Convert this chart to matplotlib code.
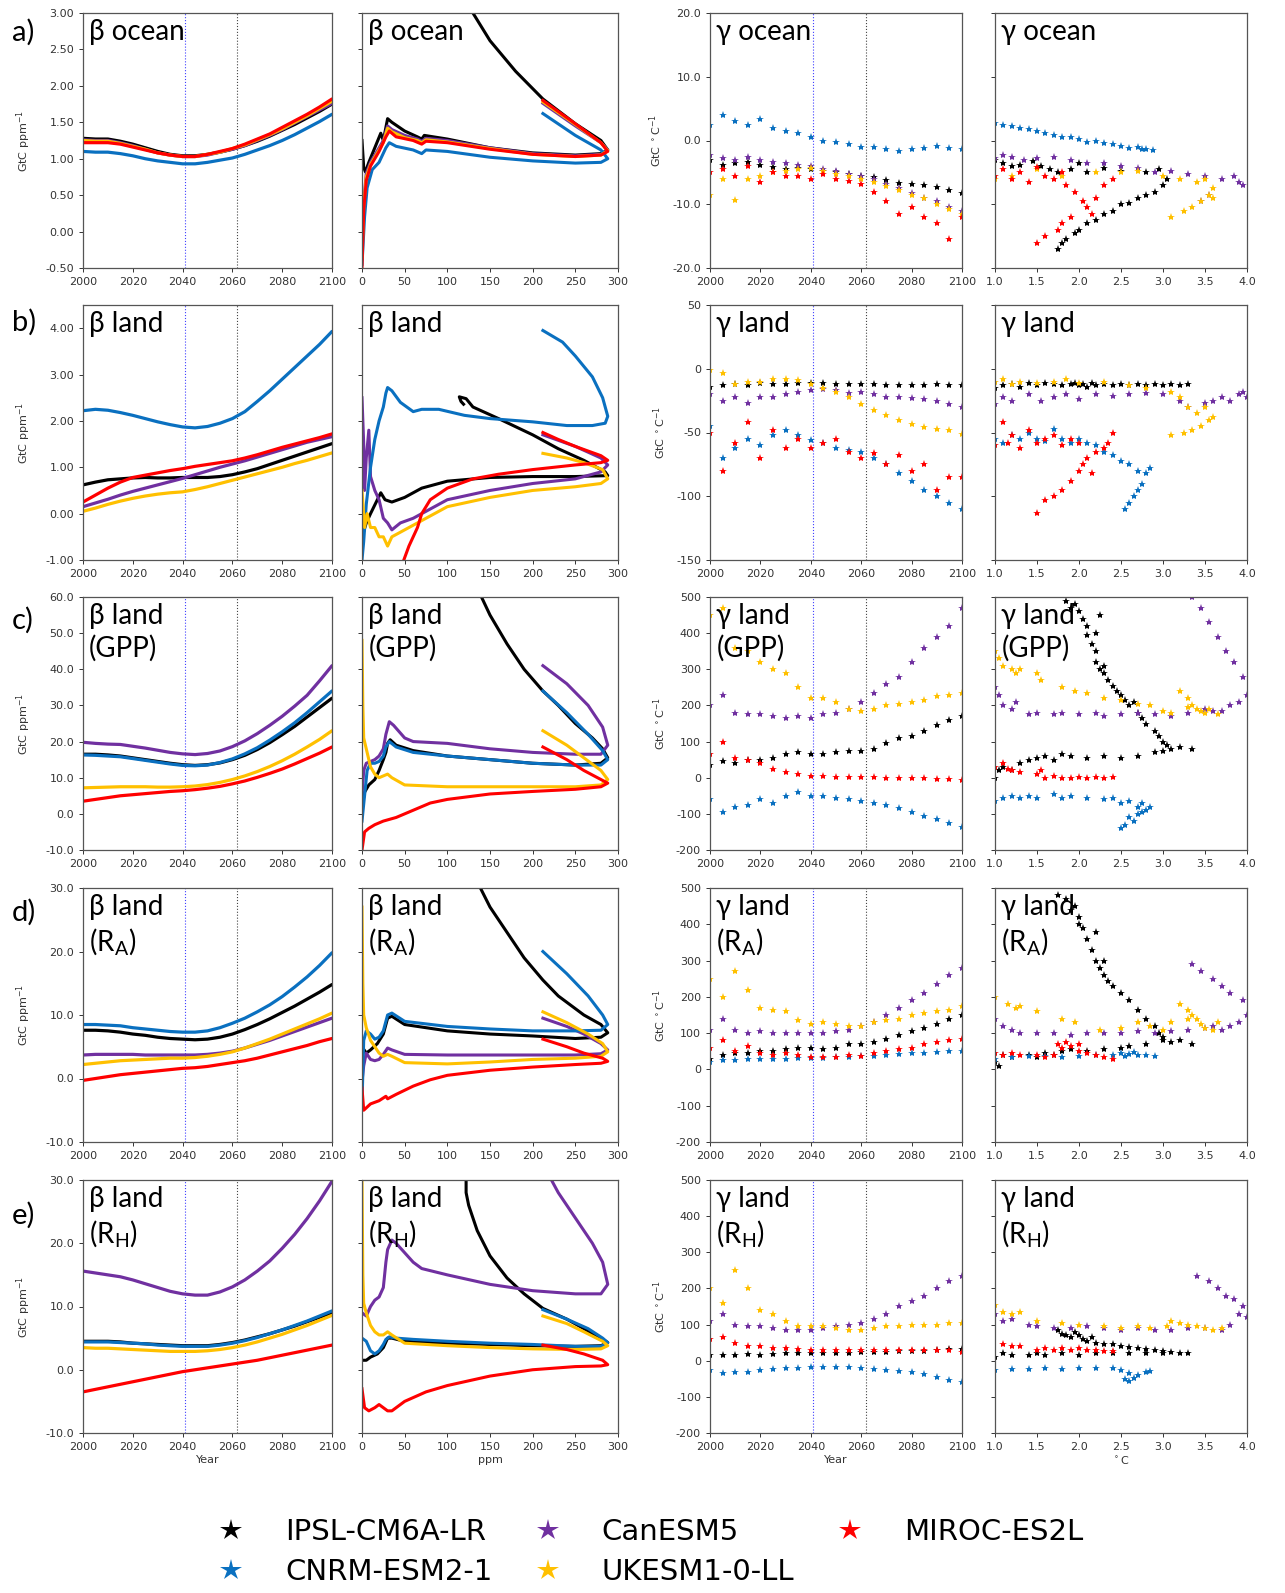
import matplotlib

matplotlib.use("Agg")
import matplotlib.pyplot as plt
from matplotlib.lines import Line2D
from matplotlib.ticker import FormatStrFormatter, MultipleLocator

IPSL, CAN, MIROC, CNRM, UKESM = "IPSL-CM6A-LR", "CanESM5", "MIROC-ES2L", "CNRM-ESM2-1", "UKESM1-0-LL"
COLORS = {IPSL: "#000000", CAN: "#7030a0", MIROC: "#ff0000", CNRM: "#0a70c0", UKESM: "#ffc000"}
DRAW_ORDER = [IPSL, CAN, CNRM, UKESM, MIROC]
LEGEND_ORDER = [IPSL, CNRM, CAN, UKESM, MIROC]

YEARS = list(range(2000, 2101, 5))
YEAR_TICKS = list(range(2000, 2101, 20))
PPM_TICKS = list(range(0, 301, 50))
TEMP_TICKS = [1.0, 1.5, 2.0, 2.5, 3.0, 3.5, 4.0]

# ---------------- a) ocean ----------------
BETA_OCEAN_YR = {
    IPSL: [1.28, 1.27, 1.27, 1.24, 1.20, 1.15, 1.10, 1.06, 1.04, 1.04, 1.06, 1.09, 1.13, 1.18, 1.24, 1.31, 1.39, 1.47, 1.56, 1.65, 1.75],
    CAN: [1.26, 1.25, 1.25, 1.22, 1.18, 1.13, 1.08, 1.05, 1.03, 1.03, 1.05, 1.09, 1.13, 1.18, 1.25, 1.32, 1.40, 1.49, 1.58, 1.67, 1.76],
    UKESM: [1.25, 1.24, 1.24, 1.21, 1.17, 1.13, 1.08, 1.05, 1.03, 1.03, 1.06, 1.09, 1.14, 1.19, 1.26, 1.33, 1.41, 1.50, 1.59, 1.69, 1.79],
    MIROC: [1.22, 1.22, 1.22, 1.20, 1.16, 1.12, 1.08, 1.05, 1.03, 1.03, 1.06, 1.10, 1.14, 1.20, 1.27, 1.34, 1.43, 1.52, 1.61, 1.71, 1.82],
    CNRM: [1.10, 1.09, 1.09, 1.07, 1.04, 1.00, 0.97, 0.95, 0.93, 0.93, 0.95, 0.98, 1.01, 1.06, 1.12, 1.18, 1.25, 1.33, 1.42, 1.51, 1.61],
}
BETA_OCEAN_PPM = {
    IPSL: [(0, 1.25), (2, 0.88), (4, 0.82), (8, 0.95), (15, 1.15), (22, 1.35), (25, 1.25), (30, 1.55), (35, 1.50), (50, 1.38),
           (65, 1.30), (70, 1.27), (73, 1.32), (100, 1.27), (150, 1.15), (200, 1.08), (250, 1.05), (280, 1.07), (288, 1.12),
           (280, 1.25), (250, 1.48), (212, 1.82), (180, 2.2), (150, 2.62), (130, 3.0), (120, 3.2)],
    CAN: [(0, -0.3), (2, 0.4), (5, 0.8), (10, 0.95), (20, 1.15), (25, 1.25), (30, 1.45), (35, 1.40), (50, 1.32), (65, 1.27),
          (70, 1.24), (75, 1.28), (100, 1.25), (150, 1.15), (200, 1.07), (250, 1.04), (280, 1.06), (288, 1.12), (280, 1.22),
          (250, 1.45), (212, 1.76)],
    UKESM: [(0, -0.35), (2, 0.35), (5, 0.75), (10, 0.92), (20, 1.12), (25, 1.22), (30, 1.42), (35, 1.37), (50, 1.29), (65, 1.25),
            (70, 1.22), (75, 1.26), (100, 1.23), (150, 1.14), (200, 1.06), (250, 1.03), (280, 1.05), (288, 1.11), (280, 1.22),
            (250, 1.47), (212, 1.78)],
    MIROC: [(0, -0.5), (2, 0.3), (5, 0.7), (10, 0.9), (20, 1.1), (28, 1.3), (32, 1.38), (40, 1.30), (60, 1.25), (70, 1.20),
            (75, 1.24), (100, 1.22), (150, 1.13), (200, 1.06), (250, 1.03), (280, 1.05), (288, 1.10), (280, 1.22), (250, 1.48),
            (212, 1.80)],
    CNRM: [(0, -0.45), (3, 0.2), (6, 0.6), (12, 0.85), (20, 0.95), (28, 1.15), (32, 1.22), (40, 1.17), (60, 1.12), (70, 1.07),
           (75, 1.12), (100, 1.10), (150, 1.02), (200, 0.97), (250, 0.94), (280, 0.95), (288, 1.00), (280, 1.12), (250, 1.32),
           (212, 1.62)],
}
GAMMA_OCEAN_YR = {
    IPSL: [-3.0, -3.8, -3.5, -3.3, -3.8, -4.2, -4.5, -4.3, -4.5, -4.8, -5.0, -5.2, -5.5, -5.8, -6.2, -6.6, -6.8, -7.0, -7.3, -7.8, -8.3],
    CAN: [-2.2, -2.8, -3.0, -2.6, -3.0, -3.4, -3.6, -3.8, -4.0, -4.5, -4.8, -5.2, -5.6, -6.0, -6.8, -7.5, -8.3, -9.0, -9.5, -10.5, -11.0],
    CNRM: [2.5, 4.0, 3.0, 2.5, 3.3, 2.0, 1.5, 1.2, 0.5, 0.0, -0.2, -0.5, -1.0, -1.0, -1.3, -1.6, -1.4, -1.2, -0.9, -1.1, -1.3],
    UKESM: [-8.5, -6.0, -9.3, -6.0, -5.5, -5.0, -4.8, -4.5, -4.3, -4.8, -5.2, -5.5, -6.0, -6.5, -7.2, -7.8, -8.5, -9.0, -10.0, -10.8, -11.5],
    MIROC: [-5.0, -4.5, -5.5, -4.0, -6.5, -5.0, -5.5, -5.5, -6.0, -5.2, -6.0, -6.3, -6.8, -8.0, -9.5, -11.5, -10.5, -12.0, -13.0, -15.5, -12.0],
}
GAMMA_OCEAN_T = {
    IPSL: [(1.0, -3.0), (1.1, -3.5), (1.2, -4.0), (1.3, -3.8), (1.45, -3.2), (1.55, -4.0), (1.65, -4.5), (1.75, -5.0), (1.9, -4.5),
           (2.0, -3.5), (2.1, -5.0), (2.3, -4.3), (2.5, -4.8), (2.8, -5.0), (2.95, -4.5), (3.05, -6.0), (3.0, -7.0), (2.9, -8.0),
           (2.7, -9.0), (2.5, -10.0), (2.3, -11.5), (2.1, -13.0), (1.95, -14.5), (1.85, -15.5), (1.75, -17.0), (2.0, -14.0),
           (2.2, -12.5), (2.4, -11.0), (2.6, -9.8), (2.8, -8.5), (1.8, -16.0)],
    CAN: [(1.0, -2.8), (1.1, -2.2), (1.2, -2.6), (1.35, -3.0), (1.5, -2.8), (1.7, -2.6), (1.9, -3.0), (2.1, -3.5), (2.3, -3.6),
          (2.5, -4.0), (2.7, -4.3), (2.9, -5.0), (3.1, -4.8), (3.3, -5.2), (3.5, -5.5), (3.7, -6.0), (3.85, -5.5), (3.95, -7.0),
          (3.55, -8.5), (3.45, -9.5), (3.9, -6.5)],
    CNRM: [(1.0, 2.8), (1.1, 2.5), (1.2, 2.2), (1.3, 2.0), (1.4, 1.8), (1.5, 1.5), (1.6, 1.2), (1.7, 0.8), (1.8, 0.5), (1.9, 0.6),
           (2.0, 0.2), (2.1, -0.2), (2.2, 0.0), (2.3, -0.4), (2.4, -0.6), (2.5, -0.9), (2.6, -1.2), (2.7, -1.0), (2.75, -1.3),
           (2.8, -1.4), (2.88, -1.5)],
    UKESM: [(1.0, -6.0), (1.2, -5.5), (1.5, -4.5), (1.8, -5.5), (2.2, -5.0), (2.5, -5.0), (2.7, -4.8), (3.0, -5.5), (3.2, -6.0),
            (3.4, -6.5), (3.5, -6.0), (3.6, -7.5), (3.55, -8.5), (3.45, -9.5), (3.35, -10.5), (3.25, -11.0), (3.1, -12.0), (3.6, -9.0)],
    MIROC: [(1.0, -5.5), (1.1, -4.5), (1.2, -6.0), (1.3, -5.0), (1.4, -6.5), (1.5, -4.2), (1.6, -5.5), (1.7, -6.0), (1.8, -5.0),
            (1.85, -7.0), (1.95, -8.0), (2.05, -9.5), (2.1, -10.5), (2.2, -9.0), (2.15, -11.5), (1.9, -12.0), (1.8, -13.0),
            (1.75, -14.0), (1.6, -15.0), (1.5, -16.0), (2.3, -7.0), (2.4, -6.0)],
}

# ---------------- b) land ----------------
BETA_LAND_YR = {
    IPSL: [0.62, 0.68, 0.73, 0.75, 0.77, 0.78, 0.77, 0.77, 0.78, 0.78, 0.78, 0.80, 0.84, 0.90, 0.97, 1.06, 1.15, 1.24, 1.33, 1.42, 1.51],
    CAN: [0.15, 0.23, 0.31, 0.40, 0.48, 0.55, 0.62, 0.69, 0.76, 0.84, 0.92, 1.00, 1.07, 1.14, 1.22, 1.30, 1.38, 1.46, 1.54, 1.60, 1.66],
    CNRM: [2.22, 2.25, 2.23, 2.18, 2.12, 2.05, 1.98, 1.92, 1.87, 1.85, 1.88, 1.95, 2.05, 2.20, 2.42, 2.65, 2.90, 3.15, 3.40, 3.65, 3.93],
    UKESM: [0.05, 0.12, 0.20, 0.27, 0.33, 0.38, 0.42, 0.45, 0.47, 0.52, 0.58, 0.65, 0.72, 0.79, 0.86, 0.93, 1.00, 1.08, 1.15, 1.23, 1.31],
    MIROC: [0.25, 0.40, 0.55, 0.68, 0.78, 0.83, 0.88, 0.93, 0.97, 1.02, 1.06, 1.10, 1.14, 1.20, 1.27, 1.35, 1.43, 1.50, 1.57, 1.64, 1.72],
}
BETA_LAND_PPM = {
    IPSL: [(0, -0.5), (5, -0.2), (10, 0.0), (18, 0.3), (22, 0.45), (27, 0.3), (35, 0.25), (50, 0.35), (70, 0.55), (100, 0.7),
           (150, 0.78), (200, 0.8), (250, 0.8), (288, 0.82), (285, 0.9), (260, 1.15), (230, 1.4), (200, 1.7), (160, 2.05),
           (130, 2.3), (122, 2.48), (114, 2.52), (116, 2.42), (119, 2.36)],
    CAN: [(0, 2.5), (2, 1.5), (3, 0.5), (5, 1.2), (8, 1.8), (10, 0.8), (15, 0.5), (20, 0.3), (25, -0.1), (30, -0.2), (35, -0.35),
          (45, -0.2), (60, -0.1), (80, 0.1), (100, 0.3), (150, 0.5), (200, 0.65), (250, 0.75), (280, 0.9), (288, 1.05),
          (280, 1.2), (250, 1.45), (212, 1.7)],
    CNRM: [(0, -1.0), (2, -0.6), (5, 0.2), (10, 1.0), (15, 1.6), (20, 2.0), (25, 2.3), (28, 2.6), (30, 2.72), (35, 2.65),
           (45, 2.4), (60, 2.2), (70, 2.25), (90, 2.25), (120, 2.12), (150, 2.05), (200, 1.98), (240, 1.9), (270, 1.9),
           (285, 1.95), (288, 2.1), (282, 2.5), (270, 2.95), (250, 3.4), (235, 3.7), (212, 3.95)],
    UKESM: [(0, 0.5), (3, -0.3), (6, 0.0), (10, -0.3), (15, -0.3), (20, -0.5), (25, -0.5), (30, -0.7), (35, -0.5), (50, -0.35),
            (75, -0.1), (100, 0.15), (150, 0.35), (200, 0.5), (250, 0.58), (280, 0.65), (288, 0.75), (282, 0.95), (260, 1.1),
            (240, 1.2), (212, 1.3)],
    MIROC: [(45, -1.2), (55, -0.7), (65, -0.3), (70, 0.0), (80, 0.3), (100, 0.55), (130, 0.75), (160, 0.85), (200, 0.95),
            (250, 1.05), (280, 1.1), (288, 1.15), (280, 1.25), (250, 1.45), (230, 1.6), (212, 1.75)],
}
GAMMA_LAND_YR = {
    IPSL: [-14, -13, -12, -13, -11, -12, -12, -11, -11, -11, -12, -12, -12, -12, -13, -13, -13, -13, -12, -13, -13],
    CAN: [-20, -25, -22, -27, -22, -22, -20, -18, -17, -16, -17, -19, -18, -20, -22, -22, -23, -24, -25, -28, -30],
    CNRM: [-45, -70, -62, -55, -60, -52, -48, -52, -56, -58, -62, -64, -65, -70, -75, -82, -88, -95, -100, -105, -110],
    UKESM: [-1, -3, -12, -10, -10, -8, -8, -9, -12, -15, -18, -22, -28, -32, -36, -40, -43, -46, -47, -48, -51],
    MIROC: [-50, -80, -58, -42, -70, -48, -62, -55, -62, -58, -55, -65, -70, -66, -75, -68, -80, -75, -95, -85, -85],
}
GAMMA_LAND_T = {
    IPSL: [(1.0, -15), (1.1, -13), (1.2, -12), (1.3, -14), (1.4, -11), (1.5, -13), (1.6, -11), (1.7, -12), (1.8, -13), (1.9, -12),
           (1.95, -11), (2.0, -13), (2.05, -12), (2.1, -14), (2.15, -11), (2.2, -13), (2.3, -12), (2.4, -13), (2.5, -12),
           (2.6, -13), (2.7, -12), (2.8, -13), (2.9, -12), (3.0, -13), (3.1, -12), (3.2, -13), (3.3, -12)],
    CAN: [(1.0, -28), (1.1, -22), (1.2, -25), (1.4, -20), (1.55, -25), (1.7, -22), (1.85, -20), (2.0, -24), (2.2, -20),
          (2.4, -21), (2.6, -20), (2.8, -19), (3.0, -20), (3.2, -25), (3.3, -30), (3.5, -27), (3.6, -25), (3.7, -22),
          (3.8, -25), (3.9, -20), (4.0, -22), (3.95, -18)],
    CNRM: [(1.0, -55), (1.1, -58), (1.2, -52), (1.3, -55), (1.4, -50), (1.5, -55), (1.6, -57), (1.7, -47), (1.8, -55),
           (1.9, -58), (2.0, -55), (2.1, -58), (2.2, -60), (2.3, -65), (2.4, -68), (2.5, -72), (2.6, -75), (2.7, -80),
           (2.8, -82), (2.75, -90), (2.65, -100), (2.6, -105), (2.55, -110), (2.7, -95), (2.85, -78)],
    UKESM: [(1.0, -10), (1.1, -8), (1.2, -12), (1.3, -10), (1.5, -11), (1.7, -10), (1.85, -8), (2.0, -11), (2.3, -10),
            (2.6, -13), (2.8, -15), (3.1, -18), (3.2, -22), (3.3, -30), (3.4, -35), (3.5, -30), (3.55, -40), (3.45, -45),
            (3.35, -48), (3.25, -50), (3.1, -52), (3.6, -38)],
    MIROC: [(1.0, -60), (1.1, -42), (1.15, -58), (1.2, -52), (1.3, -62), (1.4, -48), (1.5, -58), (1.6, -55), (1.7, -52),
            (1.8, -60), (1.9, -55), (2.0, -58), (2.05, -75), (2.1, -70), (2.15, -82), (2.2, -65), (2.3, -62), (2.35, -58),
            (2.4, -50), (2.0, -80), (1.9, -88), (1.8, -95), (1.7, -100), (1.6, -103), (1.5, -113)],
}

# ---------------- c) land GPP ----------------
BETA_GPP_YR = {
    IPSL: [16.5, 16.5, 16.3, 16.0, 15.5, 15.0, 14.5, 14.0, 13.6, 13.4, 13.6, 14.1, 15.0, 16.2, 17.8, 19.7, 21.9, 24.2, 26.8, 29.4, 32.0],
    CAN: [19.8, 19.5, 19.3, 19.2, 18.7, 18.2, 17.6, 17.0, 16.6, 16.4, 16.7, 17.4, 18.6, 20.2, 22.2, 24.5, 27.0, 29.8, 32.8, 36.8, 41.0],
    CNRM: [16.3, 16.2, 16.0, 15.8, 15.3, 14.8, 14.3, 13.8, 13.4, 13.3, 13.5, 14.2, 15.2, 16.6, 18.3, 20.4, 22.7, 25.2, 28.0, 31.0, 34.0],
    UKESM: [7.2, 7.3, 7.4, 7.5, 7.5, 7.5, 7.4, 7.4, 7.5, 7.7, 8.1, 8.7, 9.5, 10.5, 11.7, 13.1, 14.7, 16.5, 18.5, 20.6, 23.0],
    MIROC: [3.5, 4.0, 4.5, 5.0, 5.3, 5.6, 5.9, 6.2, 6.4, 6.7, 7.1, 7.6, 8.3, 9.1, 10.1, 11.2, 12.4, 13.8, 15.3, 16.8, 18.5],
}
BETA_GPP_PPM = {
    IPSL: [(0, 2), (3, 6), (8, 8), (15, 9.5), (20, 12), (25, 15), (28, 17), (30, 19.5), (33, 20.5), (40, 19), (60, 17.5),
           (100, 16), (150, 15), (200, 14), (250, 13.5), (280, 14), (288, 15.5), (282, 18), (270, 21), (250, 25), (230, 30),
           (212, 34), (190, 40), (170, 47), (150, 55), (140, 60), (135, 62)],
    CAN: [(0, 5), (2, 12), (5, 14), (10, 14.5), (15, 15), (20, 16), (25, 18), (28, 22), (32, 25.5), (37, 24.5), (50, 21),
          (60, 20), (100, 19.5), (150, 18), (200, 17), (250, 16.5), (280, 16.5), (288, 19), (282, 24), (265, 30), (240, 36),
          (212, 41)],
    CNRM: [(0, -2), (3, 5), (6, 12), (10, 14), (15, 14), (20, 14.5), (25, 16), (28, 18.5), (32, 20), (40, 18.5), (60, 17),
           (100, 16), (150, 15), (200, 14), (250, 13.5), (280, 13.5), (288, 15), (282, 17.5), (265, 22), (240, 28), (212, 34)],
    UKESM: [(0, 48), (1, 30), (2, 21), (5, 18), (10, 13), (15, 11), (20, 10), (25, 10.5), (30, 11), (35, 10), (50, 8),
            (100, 7.5), (150, 7.5), (200, 7.5), (250, 7.5), (280, 8), (288, 9.5), (280, 12), (260, 15.5), (240, 19), (212, 23)],
    MIROC: [(0, -10), (3, -5), (8, -4), (15, -3), (25, -2), (40, -1), (60, 1), (80, 3), (100, 4), (150, 5.5), (200, 6.2),
            (250, 6.8), (280, 7.5), (288, 8.5), (280, 9.5), (260, 12), (240, 15), (212, 18.5)],
}
GAMMA_GPP_YR = {
    IPSL: [35, 45, 40, 50, 50, 55, 65, 70, 65, 65, 70, 75, 75, 80, 95, 110, 115, 130, 145, 160, 170],
    CAN: [200, 230, 180, 175, 175, 170, 165, 170, 165, 175, 180, 190, 210, 235, 260, 280, 320, 360, 390, 420, 470],
    CNRM: [-60, -95, -80, -75, -60, -70, -50, -40, -50, -50, -55, -60, -65, -70, -75, -85, -95, -105, -115, -125, -135],
    UKESM: [450, 470, 360, 350, 320, 300, 290, 250, 220, 220, 210, 190, 185, 190, 200, 205, 210, 215, 225, 230, 235],
    MIROC: [65, 100, 55, 50, 40, 25, 15, 10, 5, 5, 3, 2, 2, 2, 0, 0, -2, -2, -3, -4, -5],
}
GAMMA_GPP_T = {
    IPSL: [(1.0, 0), (1.05, 20), (1.1, 30), (1.2, 20), (1.3, 40), (1.4, 50), (1.5, 55), (1.6, 60), (1.7, 50), (1.8, 65),
           (1.9, 60), (2.1, 55), (2.3, 60), (2.5, 55), (2.7, 60), (2.9, 70), (3.0, 75), (3.2, 85), (3.35, 80),
           (1.85, 490), (1.9, 470), (1.95, 480), (2.0, 460), (2.05, 440), (2.1, 420), (2.1, 395), (2.15, 370), (2.2, 350),
           (2.2, 320), (2.25, 300), (2.3, 290), (2.35, 270), (2.4, 255), (2.45, 240), (2.5, 230), (2.55, 215), (2.6, 200),
           (2.7, 180), (2.75, 165), (2.8, 150), (2.9, 130), (2.95, 115), (3.0, 100), (3.05, 90), (3.1, 80), (2.65, 210),
           (2.3, 310), (2.2, 400), (2.25, 450)],
    CAN: [(1.0, 250), (1.05, 230), (1.1, 200), (1.2, 190), (1.25, 210), (1.4, 175), (1.5, 180), (1.7, 175), (1.8, 180),
          (2.0, 175), (2.2, 180), (2.3, 170), (2.5, 175), (2.7, 180), (2.9, 175), (3.1, 170), (3.3, 180), (3.5, 190),
          (3.6, 185), (3.7, 185), (3.8, 200), (3.9, 210), (4.0, 230), (3.95, 280), (3.85, 320), (3.75, 350), (3.65, 390),
          (3.55, 430), (3.45, 470), (3.35, 500)],
    CNRM: [(1.0, -65), (1.1, -55), (1.2, -50), (1.3, -55), (1.4, -50), (1.5, -55), (1.7, -45), (1.8, -55), (1.9, -50),
           (2.1, -55), (2.3, -60), (2.4, -55), (2.5, -70), (2.6, -65), (2.7, -80), (2.75, -70), (2.8, -90), (2.85, -80),
           (2.7, -100), (2.6, -110), (2.55, -130), (2.5, -140), (2.65, -120), (2.75, -95)],
    UKESM: [(1.0, 350), (1.05, 330), (1.1, 310), (1.2, 300), (1.25, 290), (1.3, 300), (1.5, 290), (1.55, 270), (1.8, 250),
            (1.95, 240), (2.1, 235), (2.3, 220), (2.5, 215), (2.7, 205), (2.85, 200), (3.0, 185), (3.1, 180), (3.2, 240),
            (3.3, 220), (3.35, 200), (3.4, 190), (3.45, 185), (3.5, 180), (3.55, 190), (3.65, 175), (3.3, 195)],
    MIROC: [(1.0, 30), (1.1, 40), (1.15, 25), (1.2, 20), (1.3, 15), (1.5, 10), (1.55, 20), (1.6, 0), (1.7, 5), (1.8, 0),
            (1.9, 0), (2.0, 2), (2.1, 0), (2.2, 3), (2.3, 0), (2.4, 2)],
}

# ---------------- d) land RA ----------------
BETA_RA_YR = {
    IPSL: [7.6, 7.6, 7.5, 7.3, 7.0, 6.8, 6.5, 6.3, 6.2, 6.1, 6.2, 6.5, 7.0, 7.7, 8.5, 9.4, 10.4, 11.4, 12.5, 13.6, 14.8],
    CAN: [3.7, 3.8, 3.8, 3.8, 3.8, 3.7, 3.7, 3.7, 3.7, 3.7, 3.8, 4.0, 4.3, 4.8, 5.4, 6.0, 6.7, 7.4, 8.1, 8.8, 9.5],
    CNRM: [8.5, 8.5, 8.4, 8.3, 8.0, 7.8, 7.6, 7.4, 7.3, 7.3, 7.5, 8.0, 8.7, 9.5, 10.5, 11.6, 12.9, 14.4, 16.0, 17.8, 19.8],
    UKESM: [2.2, 2.4, 2.6, 2.8, 2.9, 3.0, 3.1, 3.2, 3.2, 3.3, 3.5, 3.8, 4.2, 4.8, 5.5, 6.2, 7.0, 7.8, 8.6, 9.4, 10.3],
    MIROC: [-0.3, 0.0, 0.3, 0.6, 0.8, 1.0, 1.2, 1.4, 1.6, 1.7, 1.9, 2.2, 2.5, 2.8, 3.2, 3.7, 4.2, 4.7, 5.2, 5.8, 6.3],
}
BETA_RA_PPM = {
    IPSL: [(0, 5), (5, 4), (10, 4.5), (18, 5.5), (25, 7), (30, 9.5), (35, 9.8), (50, 8.5), (100, 7.5), (150, 7), (200, 6.7),
           (250, 6.3), (280, 6.5), (288, 7.2), (280, 8.5), (260, 10), (230, 13), (212, 15.5), (190, 19), (170, 23), (150, 27),
           (135, 31)],
    CAN: [(0, -0.5), (2, 2), (5, 4), (10, 3), (15, 2.8), (20, 3), (25, 3.8), (30, 4.8), (35, 4.5), (50, 3.8), (100, 3.7),
          (150, 3.7), (200, 3.7), (250, 3.7), (280, 3.9), (288, 4.5), (280, 5.5), (260, 7), (240, 8.2), (212, 9.5)],
    CNRM: [(0, -4), (2, 6), (5, 7.5), (10, 7), (15, 6.2), (20, 6.5), (25, 7.5), (30, 10), (35, 10.3), (50, 9), (100, 8.2),
           (150, 7.8), (200, 7.5), (250, 7.5), (280, 7.6), (288, 8.5), (282, 10), (265, 13), (240, 16.5), (212, 20)],
    UKESM: [(0, 27), (1, 15), (2, 10), (5, 8), (10, 6), (15, 5), (20, 4), (25, 3.5), (30, 3.8), (35, 3.5), (50, 2.5),
            (100, 2.3), (150, 2.6), (200, 3), (250, 3.2), (280, 3.5), (288, 4.2), (282, 5.5), (265, 7), (240, 8.8), (212, 10.5)],
    MIROC: [(0, -1.5), (2, -5), (10, -4), (20, -3.5), (28, -2.8), (30, -3.2), (40, -2.5), (60, -1.2), (80, -0.2), (100, 0.5),
            (150, 1.3), (200, 1.8), (250, 2.2), (280, 2.4), (288, 2.7), (282, 3.2), (260, 4), (240, 5), (212, 6.2)],
}
GAMMA_RA_YR = {
    IPSL: [30, 40, 45, 45, 50, 50, 55, 60, 60, 55, 60, 70, 70, 75, 85, 95, 105, 115, 125, 140, 150],
    CAN: [110, 140, 110, 100, 105, 100, 100, 100, 100, 100, 105, 110, 120, 130, 150, 170, 190, 210, 235, 260, 280],
    CNRM: [20, 25, 25, 30, 30, 30, 30, 32, 32, 32, 33, 35, 36, 38, 40, 42, 44, 46, 48, 50, 50],
    UKESM: [250, 200, 270, 220, 170, 165, 160, 135, 125, 130, 125, 120, 120, 130, 135, 140, 150, 155, 160, 165, 175],
    MIROC: [60, 80, 50, 65, 45, 40, 45, 40, 35, 35, 35, 40, 38, 45, 50, 55, 60, 70, 75, 80, 85],
}
GAMMA_RA_T = {
    IPSL: [(1.0, 20), (1.05, 10), (1.1, 40), (1.2, 35), (1.4, 40), (1.5, 35), (1.6, 45), (1.7, 40), (1.8, 50), (1.9, 55),
           (2.1, 50), (2.3, 55), (2.5, 60), (2.6, 65), (2.8, 70), (3.0, 80), (3.2, 80), (3.35, 70),
           (1.75, 480), (1.85, 470), (1.9, 440), (1.95, 450), (2.0, 420), (2.05, 390), (2.1, 360), (2.15, 330), (2.2, 300),
           (2.25, 280), (2.3, 260), (2.35, 245), (2.4, 230), (2.5, 210), (2.6, 190), (2.7, 165), (2.8, 140), (2.9, 120),
           (2.95, 100), (3.0, 90), (3.1, 75), (2.2, 380), (2.0, 400), (2.3, 300)],
    CAN: [(1.0, 140), (1.1, 120), (1.2, 110), (1.3, 100), (1.5, 100), (1.7, 100), (1.9, 95), (2.1, 100), (2.3, 100),
          (2.5, 100), (2.7, 105), (2.9, 100), (3.1, 105), (3.3, 110), (3.5, 115), (3.6, 120), (3.7, 110), (3.8, 120),
          (3.9, 130), (4.0, 150), (3.95, 190), (3.8, 210), (3.7, 230), (3.6, 250), (3.45, 270), (3.35, 290)],
    CNRM: [(1.0, 30), (1.2, 35), (1.4, 38), (1.6, 38), (1.8, 35), (2.0, 38), (2.2, 40), (2.4, 40), (2.5, 45), (2.6, 42),
           (2.7, 40), (2.8, 40), (2.9, 38), (2.55, 38), (2.65, 48)],
    UKESM: [(1.0, 200), (1.15, 180), (1.25, 170), (1.3, 175), (1.5, 160), (1.8, 140), (1.95, 130), (2.25, 110), (2.5, 115),
            (2.7, 130), (2.85, 120), (3.0, 110), (3.1, 130), (3.2, 180), (3.3, 165), (3.35, 150), (3.4, 140), (3.45, 125),
            (3.5, 115), (3.6, 110), (3.65, 130), (3.3, 140)],
    MIROC: [(1.0, 45), (1.1, 40), (1.2, 45), (1.3, 40), (1.5, 40), (1.6, 35), (1.7, 40), (1.75, 70), (1.8, 60), (1.9, 65),
            (2.0, 50), (2.1, 45), (2.2, 40), (2.3, 35), (2.4, 30), (1.85, 75), (2.0, 70)],
}

# ---------------- e) land RH ----------------
BETA_RH_YR = {
    IPSL: [4.5, 4.5, 4.5, 4.4, 4.2, 4.1, 4.0, 3.9, 3.8, 3.8, 3.8, 4.0, 4.3, 4.7, 5.2, 5.7, 6.3, 6.9, 7.6, 8.3, 9.0],
    CAN: [15.6, 15.3, 15.0, 14.7, 14.2, 13.6, 13.0, 12.4, 12.0, 11.8, 11.8, 12.3, 13.1, 14.2, 15.6, 17.2, 19.2, 21.4, 23.9, 26.7, 29.8],
    CNRM: [4.4, 4.4, 4.4, 4.3, 4.2, 4.1, 3.9, 3.8, 3.7, 3.7, 3.7, 3.9, 4.2, 4.6, 5.1, 5.7, 6.3, 7.0, 7.7, 8.5, 9.3],
    UKESM: [3.5, 3.4, 3.4, 3.3, 3.2, 3.1, 3.0, 2.9, 2.9, 2.9, 3.0, 3.2, 3.5, 3.9, 4.4, 5.0, 5.6, 6.3, 7.0, 7.8, 8.6],
    MIROC: [-3.5, -3.1, -2.7, -2.3, -1.9, -1.5, -1.1, -0.7, -0.3, 0.0, 0.3, 0.6, 0.9, 1.2, 1.5, 1.9, 2.3, 2.7, 3.1, 3.5, 3.9],
}
BETA_RH_PPM = {
    IPSL: [(0, 1.5), (5, 1.5), (10, 2), (18, 2.5), (25, 3.5), (30, 5), (35, 5), (50, 4.5), (100, 4.2), (150, 4), (200, 3.8),
           (250, 3.7), (280, 3.8), (288, 4.3), (280, 5), (260, 6.5), (240, 8), (212, 9.7), (190, 12), (170, 14.5), (150, 18),
           (135, 22), (125, 26), (122, 28), (122, 31)],
    CAN: [(0, 9), (5, 8.5), (10, 10), (15, 11), (20, 11.5), (25, 13), (28, 17), (30, 19), (35, 20.5), (40, 20), (50, 18.5),
          (60, 17), (70, 16), (100, 15), (150, 13.5), (200, 12.5), (250, 12), (280, 12), (288, 13.5), (282, 17), (270, 20),
          (250, 24), (230, 28), (220, 30.5)],
    CNRM: [(0, 5), (5, 4.5), (10, 3), (15, 2.5), (20, 3), (25, 4), (28, 4.8), (32, 5.2), (40, 5), (60, 4.8), (100, 4.5),
           (150, 4.2), (200, 4), (250, 3.7), (280, 3.7), (288, 4.3), (282, 5), (265, 6.5), (240, 8), (212, 9.5)],
    UKESM: [(0, 30), (1, 15), (2, 10.5), (5, 9), (10, 7), (15, 6), (20, 5.5), (25, 5.5), (30, 6), (35, 5.5), (50, 4.2),
            (100, 3.8), (150, 3.5), (200, 3.3), (250, 3.2), (280, 3.3), (288, 3.8), (282, 4.5), (260, 6), (240, 7.3), (212, 8.5)],
    MIROC: [(0, -3), (3, -6), (8, -6.5), (15, -6), (20, -5.5), (25, -6), (30, -6.5), (35, -6.5), (50, -5), (75, -3.5),
            (100, -2.5), (150, -1), (200, 0), (250, 0.5), (280, 0.6), (288, 0.8), (282, 1.5), (260, 2.5), (240, 3.2), (212, 3.9)],
}
GAMMA_RH_YR = {
    IPSL: [15, 15, 15, 18, 17, 18, 20, 20, 20, 20, 22, 22, 23, 24, 25, 26, 27, 28, 30, 32, 33],
    CAN: [110, 130, 100, 95, 95, 90, 85, 85, 85, 90, 95, 100, 105, 115, 130, 150, 165, 180, 200, 220, 235],
    CNRM: [-25, -35, -30, -30, -25, -22, -20, -20, -18, -18, -17, -18, -20, -22, -25, -28, -32, -38, -45, -52, -60],
    UKESM: [200, 160, 250, 200, 140, 130, 110, 95, 95, 95, 90, 85, 85, 90, 95, 95, 100, 100, 100, 105, 105],
    MIROC: [60, 65, 50, 40, 40, 35, 35, 33, 30, 30, 30, 30, 30, 30, 30, 30, 30, 30, 30, 30, 25],
}
GAMMA_RH_T = {
    IPSL: [(1.0, 10), (1.1, 20), (1.2, 15), (1.4, 15), (1.5, 20), (1.6, 15), (1.8, 20), (2.0, 15), (2.2, 20), (2.4, 20),
           (2.6, 20), (2.8, 22), (3.0, 20), (3.2, 20), (3.3, 20), (1.75, 85), (1.8, 75), (1.85, 70), (1.9, 65), (1.95, 80),
           (2.0, 70), (2.05, 60), (2.1, 55), (2.2, 50), (2.3, 45), (2.4, 45), (2.5, 40), (2.6, 38), (2.7, 35), (2.8, 32),
           (2.9, 30), (3.0, 28), (3.1, 25), (2.15, 65)],
    CAN: [(1.0, 130), (1.1, 110), (1.2, 115), (1.4, 100), (1.5, 95), (1.7, 90), (1.9, 90), (2.1, 95), (2.3, 90), (2.5, 85),
          (2.7, 90), (2.9, 85), (3.1, 85), (3.3, 90), (3.5, 90), (3.7, 85), (3.8, 100), (3.9, 130), (4.0, 120), (3.95, 150),
          (3.85, 170), (3.75, 180), (3.65, 200), (3.55, 220), (3.4, 235)],
    CNRM: [(1.0, -25), (1.2, -22), (1.4, -22), (1.6, -20), (1.8, -22), (2.0, -20), (2.2, -20), (2.4, -20), (2.5, -25),
           (2.6, -35), (2.55, -50), (2.6, -55), (2.7, -40), (2.8, -30), (2.85, -28), (2.65, -48)],
    UKESM: [(1.0, 155), (1.1, 135), (1.2, 130), (1.3, 135), (1.5, 110), (1.8, 105), (2.0, 100), (2.3, 95), (2.5, 90),
            (2.7, 95), (2.85, 90), (3.05, 95), (3.1, 110), (3.2, 105), (3.3, 100), (3.4, 95), (3.5, 90), (3.6, 85), (3.7, 90)],
    MIROC: [(1.1, 45), (1.2, 42), (1.3, 40), (1.5, 30), (1.6, 35), (1.7, 30), (1.8, 35), (1.9, 30), (2.0, 35), (2.1, 30),
            (2.2, 30), (2.3, 28), (2.4, 27)],
}

ROWS = [
    dict(tag="a)", beta="β ocean", gamma="γ ocean", beta_yr=BETA_OCEAN_YR, beta_ppm=BETA_OCEAN_PPM,
         gamma_yr=GAMMA_OCEAN_YR, gamma_t=GAMMA_OCEAN_T, blim=(-0.5, 3.0), bstep=0.5, bfmt="%.2f",
         glim=(-20, 20), gstep=10, gfmt="%.1f"),
    dict(tag="b)", beta="β land", gamma="γ land", beta_yr=BETA_LAND_YR, beta_ppm=BETA_LAND_PPM,
         gamma_yr=GAMMA_LAND_YR, gamma_t=GAMMA_LAND_T, blim=(-1.0, 4.5), bstep=1.0, bfmt="%.2f",
         glim=(-150, 50), gstep=50, gfmt="%d"),
    dict(tag="c)", beta="β land\n(GPP)", gamma="γ land\n(GPP)", beta_yr=BETA_GPP_YR, beta_ppm=BETA_GPP_PPM,
         gamma_yr=GAMMA_GPP_YR, gamma_t=GAMMA_GPP_T, blim=(-10, 60), bstep=10, bfmt="%.1f",
         glim=(-200, 500), gstep=100, gfmt="%d"),
    dict(tag="d)", beta="β land\n(R$_\\mathregular{A}$)", gamma="γ land\n(R$_\\mathregular{A}$)", beta_yr=BETA_RA_YR,
         beta_ppm=BETA_RA_PPM, gamma_yr=GAMMA_RA_YR, gamma_t=GAMMA_RA_T, blim=(-10, 30), bstep=10, bfmt="%.1f",
         glim=(-200, 500), gstep=100, gfmt="%d"),
    dict(tag="e)", beta="β land\n(R$_\\mathregular{H}$)", gamma="γ land\n(R$_\\mathregular{H}$)", beta_yr=BETA_RH_YR,
         beta_ppm=BETA_RH_PPM, gamma_yr=GAMMA_RH_YR, gamma_t=GAMMA_RH_T, blim=(-10, 30), bstep=10, bfmt="%.1f",
         glim=(-200, 500), gstep=100, gfmt="%d"),
]

FIG_W, FIG_H = 1285, 1593
COLS_PX = [(83, 332), (362, 618), (710, 962), (995, 1247)]
ROWS_PX = [(13, 268), (305, 560), (597, 850), (888, 1142), (1180, 1433)]
TAG_Y_PX = [32, 322, 620, 912, 1215]
PANEL_FONT = ["Lato", "DejaVu Sans"]


def make_axes(fig, col, row):
    x0, x1 = COLS_PX[col]
    y0, y1 = ROWS_PX[row]
    ax = fig.add_axes([x0 / FIG_W, 1 - y1 / FIG_H, (x1 - x0) / FIG_W, (y1 - y0) / FIG_H])
    for sp in ax.spines.values():
        sp.set_color("#555555")
        sp.set_linewidth(0.9)
    ax.tick_params(labelsize=8, colors="#333333", length=3, width=0.7)
    return ax


def style_y(ax, lim, step, fmt, labels):
    ax.set_ylim(*lim)
    ax.yaxis.set_major_locator(MultipleLocator(step))
    ax.yaxis.set_major_formatter(FormatStrFormatter(fmt))
    if not labels:
        ax.tick_params(axis="y", labelleft=False)


def panel_title(ax, text):
    ax.text(0.025, 0.975, text, transform=ax.transAxes, ha="left", va="top",
            fontsize=20, family=PANEL_FONT, linespacing=1.25, zorder=5)


def year_lines(ax):
    ax.axvline(2041, color="#4040ff", ls=":", lw=0.8, zorder=0)
    ax.axvline(2062, color="#444444", ls=":", lw=0.8, zorder=0)


fig = plt.figure(figsize=(FIG_W / 100, FIG_H / 100), dpi=100)

for r, row in enumerate(ROWS):
    bottom = r == len(ROWS) - 1

    # column 1: beta vs year
    ax = make_axes(fig, 0, r)
    year_lines(ax)
    for m in DRAW_ORDER:
        ax.plot(YEARS, row["beta_yr"][m], "-", color=COLORS[m], lw=2.3, solid_capstyle="round")
    ax.set_xlim(2000, 2100)
    ax.set_xticks(YEAR_TICKS)
    style_y(ax, row["blim"], row["bstep"], row["bfmt"], True)
    ax.set_ylabel("GtC ppm$^{-1}$", fontsize=8, color="#333333", labelpad=9)
    panel_title(ax, row["beta"])
    if bottom:
        ax.set_xlabel("Year", fontsize=8, color="#333333", labelpad=2)

    # column 2: beta vs ppm
    ax = make_axes(fig, 1, r)
    for m in DRAW_ORDER:
        xs, ys = zip(*row["beta_ppm"][m])
        ax.plot(xs, ys, "-", color=COLORS[m], lw=2.2, solid_joinstyle="round")
    ax.set_xlim(0, 300)
    ax.set_xticks(PPM_TICKS)
    style_y(ax, row["blim"], row["bstep"], row["bfmt"], False)
    panel_title(ax, row["beta"])
    if bottom:
        ax.set_xlabel("ppm", fontsize=8, color="#333333", labelpad=2)

    # column 3: gamma vs year
    ax = make_axes(fig, 2, r)
    year_lines(ax)
    for m in DRAW_ORDER:
        ax.plot(YEARS, row["gamma_yr"][m], ls="none", marker="*", ms=6, mew=0, color=COLORS[m])
    ax.set_xlim(2000, 2100)
    ax.set_xticks(YEAR_TICKS)
    style_y(ax, row["glim"], row["gstep"], row["gfmt"], True)
    ax.set_ylabel("GtC $^\\circ$C$^{-1}$", fontsize=8, color="#333333", labelpad=6)
    panel_title(ax, row["gamma"])
    if bottom:
        ax.set_xlabel("Year", fontsize=8, color="#333333", labelpad=2)

    # column 4: gamma vs temperature
    ax = make_axes(fig, 3, r)
    for m in DRAW_ORDER:
        xs, ys = zip(*row["gamma_t"][m])
        ax.plot(xs, ys, ls="none", marker="*", ms=6, mew=0, color=COLORS[m])
    ax.set_xlim(1.0, 4.0)
    ax.set_xticks(TEMP_TICKS)
    ax.xaxis.set_major_formatter(FormatStrFormatter("%.1f"))
    style_y(ax, row["glim"], row["gstep"], row["gfmt"], False)
    panel_title(ax, row["gamma"])
    if bottom:
        ax.set_xlabel("$^\\circ$C", fontsize=8, color="#333333", labelpad=2)

    fig.text(12 / FIG_W, 1 - TAG_Y_PX[r] / FIG_H, row["tag"], fontsize=21, family=PANEL_FONT,
             ha="left", va="center")

handles = [Line2D([], [], ls="none", marker="*", ms=16, mew=0, color=COLORS[m], label=m) for m in LEGEND_ORDER]
fig.legend(handles=handles, loc="center", bbox_to_anchor=(0.5, 1 - 1552 / FIG_H), ncol=3, frameon=False,
           fontsize=21, columnspacing=0.9, handletextpad=0.85, labelspacing=0.4)

fig.savefig("out.png", dpi=100)
